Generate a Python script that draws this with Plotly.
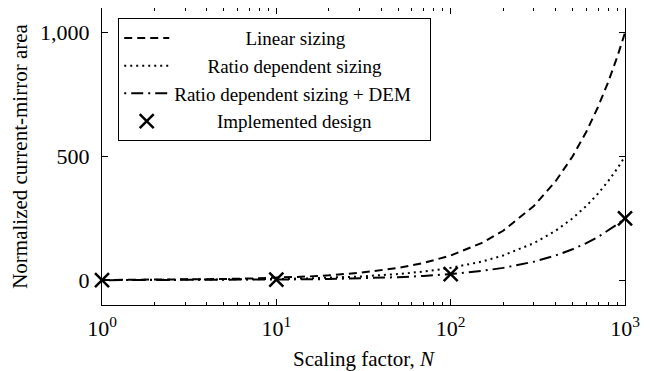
import plotly.graph_objects as go

N = [1, 2, 3, 5, 7, 10, 15, 20, 30, 50, 70, 100, 150, 200, 300, 400, 500, 600, 700, 800, 900, 1000]
linear_sizing = [1, 2, 3, 5, 7, 10, 15, 20, 30, 50, 70, 100, 150, 200, 300, 400, 500, 600, 700, 800, 900, 1000]
ratio_sizing = [0.5, 1, 1.5, 2.5, 3.5, 5, 7.5, 10, 15, 25, 35, 50, 75, 100, 150, 200, 250, 300, 350, 400, 450, 500]
ratio_dem = [0.25, 0.5, 0.75, 1.25, 1.75, 2.5, 3.75, 5, 7.5, 12.5, 17.5, 25, 37.5, 50, 75, 100, 125, 150, 175, 200, 225, 250]

impl_N = [1, 10, 100, 1000]
impl_area = [0.25, 2.5, 25, 250]

series_names = ["Linear sizing", "Ratio dependent sizing", "Ratio dependent sizing + DEM", "Implemented design"]

x_tickvals = [1, 10, 100, 1000]
x_ticktext = ["10<sup>0</sup>", "10<sup>1</sup>", "10<sup>2</sup>", "10<sup>3</sup>"]
x_minor = [m * d for d in (1, 10, 100) for m in range(2, 10)]
y_tickvals = [0, 500, 1000]
y_ticktext = ["0", "500", "1,000"]

font = "Liberation Serif"
fs_tick = 22
fs_title = 21
fs_leg = 19

NB = "\u00a0"
# padding (non-breaking spaces) so legend texts appear centred like the reference
pad_left = [15, 7, 0, 9]
pad_right = [0, 0, 3, 0]
leg_names = [NB * l + n + NB * r for n, l, r in zip(series_names, pad_left, pad_right)]

fig = go.Figure()
fig.add_trace(go.Scatter(x=N, y=linear_sizing, mode="lines", name=leg_names[0],
                         line=dict(color="black", width=2, dash="8px,5px")))
fig.add_trace(go.Scatter(x=N, y=ratio_sizing, mode="lines", name=leg_names[1],
                         line=dict(color="black", width=2, dash="2px,4px")))
fig.add_trace(go.Scatter(x=N, y=ratio_dem, mode="lines", name=leg_names[2],
                         line=dict(color="black", width=2, dash="2px,5px,12px,5px")))
fig.add_trace(go.Scatter(x=impl_N, y=impl_area, mode="markers", name=leg_names[3],
                         cliponaxis=False,
                         marker=dict(symbol="x-thin-open", size=14, color="black",
                                     line=dict(color="black", width=2.5))))

axis_common = dict(showline=True, linecolor="black", linewidth=1, mirror="ticks",
                   ticks="inside", ticklen=6, tickcolor="black", showgrid=False,
                   zeroline=False, automargin=False,
                   tickfont=dict(family=font, size=fs_tick, color="black"))

fig.update_xaxes(type="log", range=[0, 3], tickvals=x_tickvals, ticktext=x_ticktext,
                 title=dict(text="Scaling factor, <i>N</i>", font=dict(family=font, size=fs_title, color="black"), standoff=12),
                 minor=dict(tickvals=x_minor, ticks="inside", ticklen=3, tickcolor="black", showgrid=False),
                 ticklabelstandoff=4,
                 **axis_common)
fig.update_yaxes(range=[-100, 1100], tickvals=y_tickvals, ticktext=y_ticktext,
                 title=dict(text="Normalized current-mirror area", font=dict(family=font, size=fs_title, color="black"), standoff=8),
                 ticklabelstandoff=7,
                 **axis_common)

fig.update_layout(
    width=644, height=363,
    margin=dict(l=94, r=27, t=0, b=66),
    plot_bgcolor="white", paper_bgcolor="white",
    font=dict(family=font, size=fs_leg, color="black"),
    legend=dict(x=0.031, y=0.966, xanchor="left", yanchor="top",
                bgcolor="white", bordercolor="black", borderwidth=1,
                font=dict(family=font, size=fs_leg, color="black"),
                itemwidth=45, tracegroupgap=0),
    showlegend=True,
)

fig.write_html("out.html")
